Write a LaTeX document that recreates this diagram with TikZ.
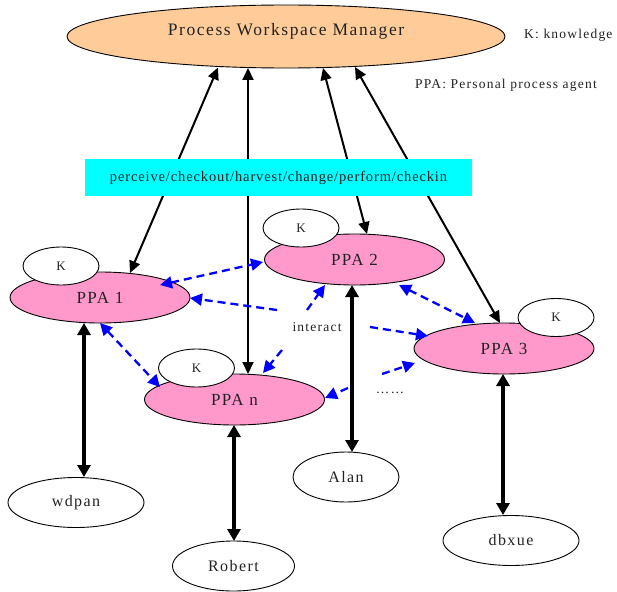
\documentclass[tikz,border=0pt]{standalone}
\usepackage{fontspec}
\setmainfont{Liberation Serif}[LetterSpace=9]
\newfontfamily\boxfont{Liberation Serif}[LetterSpace=6]
\usetikzlibrary{shapes.geometric,arrows.meta,calc}

\definecolor{peach}{HTML}{FFCC99}
\definecolor{rose}{HTML}{FF99CC}
\definecolor{opcyan}{HTML}{00FFFF}
\definecolor{agentblue}{HTML}{0000FF}
\definecolor{ink}{HTML}{222222}

\begin{document}
\begin{tikzpicture}[x=1pt,y=-1pt,
  every node/.style={text=ink},
  oval/.style={ellipse,draw=black,line width=0.9pt,inner sep=0pt},
  manager/.style={oval,fill=peach,minimum width=438pt,minimum height=63pt,font=\fontsize{17.5}{20}\selectfont},
  agent/.style={oval,fill=rose,minimum width=180pt,minimum height=51pt,font=\fontsize{17}{20}\selectfont},
  know/.style={oval,fill=white,minimum width=76pt,minimum height=38pt,font=\fontsize{13}{15}\selectfont},
  person/.style={oval,fill=white,minimum height=50pt,font=\fontsize{16}{19}\selectfont},
  note/.style={inner sep=0pt,font=\fontsize{13.5}{16}\selectfont},
  link/.style={line width=2pt,{Triangle[length=12pt,width=11pt]}-{Triangle[length=12pt,width=11pt]}},
  user/.style={line width=4pt,{Triangle[length=12pt,width=13pt]}-{Triangle[length=12pt,width=13pt]}},
  talk/.style={draw=agentblue,line width=2.3pt,dash pattern=on 8pt off 5pt,-{Triangle[length=12pt,width=12pt,fill=agentblue]}},
  talkboth/.style={talk,{Triangle[length=12pt,width=12pt,fill=agentblue]}-{Triangle[length=12pt,width=12pt,fill=agentblue]}},
]
\useasboundingbox (0,0) rectangle (617,591);

% manager and legend
\node[manager] (pwm) at (286,36.5) {\raisebox{1pt}[0pt][0pt]{Process Workspace Manager}};
\node[note,anchor=west] (klegend) at (524,35) {K: knowledge};
\node[note,anchor=west] (plegend) at (415,85) {PPA: Personal process agent};

% personal process agents with their knowledge
\node[agent] (ppa1) at (100,297.5) {PPA 1};
\node[know]  (k1)   at (61,266) {K};
\node[agent] (ppa2) at (354.5,259.5) {PPA 2};
\node[know]  (k2)   at (301,228) {K};
\node[agent] (ppa3) at (504,348.5) {PPA 3};
\node[know]  (k3)   at (556,317.5) {K};
\node[agent] (ppan) at (234.5,399.5) {PPA n};
\node[know]  (kn)   at (196.5,368) {K};

% people
\node[person,minimum width=136pt] (wdpan)  at (76,502.5) {wdpan};
\node[person,minimum width=122pt] (robert) at (233.5,566) {Robert};
\node[person,minimum width=106pt] (alan)   at (346,477) {Alan};
\node[person,minimum width=136pt] (dbxue)  at (511,540.5) {dbxue};

% interaction labels
\node[note] (interact) at (317,327) {interact};
\node[note] (dots) at (390,393) {……};

% agents <-> manager
\draw[link] ($(ppa1.center)+(30,-24.5)$) -- ($(pwm.center)+(-68,31)$);
\draw[link] ($(ppan.center)+(13.5,-25.5)$) -- ($(pwm.center)+(-38,31.5)$);
\draw[link] ($(ppa2.center)+(12.5,-25.5)$) -- ($(pwm.center)+(37,31.5)$);
\draw[link] ($(ppa3.center)+(-4,-25.5)$) -- ($(pwm.center)+(69,30.5)$);

% agents <-> people
\draw[user] ($(ppa1.center)+(-16,25.5)$) -- ($(wdpan.center)+(8,-25.5)$);
\draw[user] ($(ppan.center)+(-0.5,25.5)$) -- ($(robert.center)+(0.5,-25)$);
\draw[user] ($(ppa2.center)+(-2.5,25.5)$) -- ($(alan.center)+(6,-25)$);
\draw[user] ($(ppa3.center)+(-1,25.5)$) -- ($(dbxue.center)+(-8,-25.5)$);

% agent interactions
\draw[talkboth] ($(ppa1.center)+(60,-12.5)$) -- ($(ppa2.center)+(-91.5,2.5)$);
\draw[talkboth] ($(ppa1.center)+(0,25.5)$) -- ($(ppan.center)+(-74.5,-12.5)$);
\draw[talkboth] ($(ppa2.center)+(44.5,25.5)$) -- ($(ppa3.center)+(-29,-25.5)$);
\draw[talk] ($(interact.center)+(-40,-17)$) -- ($(ppa1.center)+(90,0.5)$);
\draw[talk] ($(interact.center)+(-10,-17)$) -- ($(ppa2.center)+(-29.5,25.5)$);
\draw[talk] ($(interact.center)+(-35,23)$) -- ($(ppan.center)+(28.5,-26.5)$);
\draw[talk] ($(interact.center)+(53,0)$) -- ($(ppa3.center)+(-76,-12.5)$);
\draw[talk] ($(dots.center)+(-42,-5)$) -- ($(ppan.center)+(90.5,-1.5)$);
\draw[talk] ($(dots.center)+(-8,-19)$) -- ($(ppa3.center)+(-89,14.5)$);

% operations bar over the manager links
\node[fill=opcyan,inner sep=0pt,minimum width=387pt,minimum height=37pt,font=\boxfont\fontsize{14.5}{17}\selectfont]
  (ops) at (278.5,177.5) {perceive/checkout/harvest/change/perform/checkin};
\end{tikzpicture}
\end{document}
